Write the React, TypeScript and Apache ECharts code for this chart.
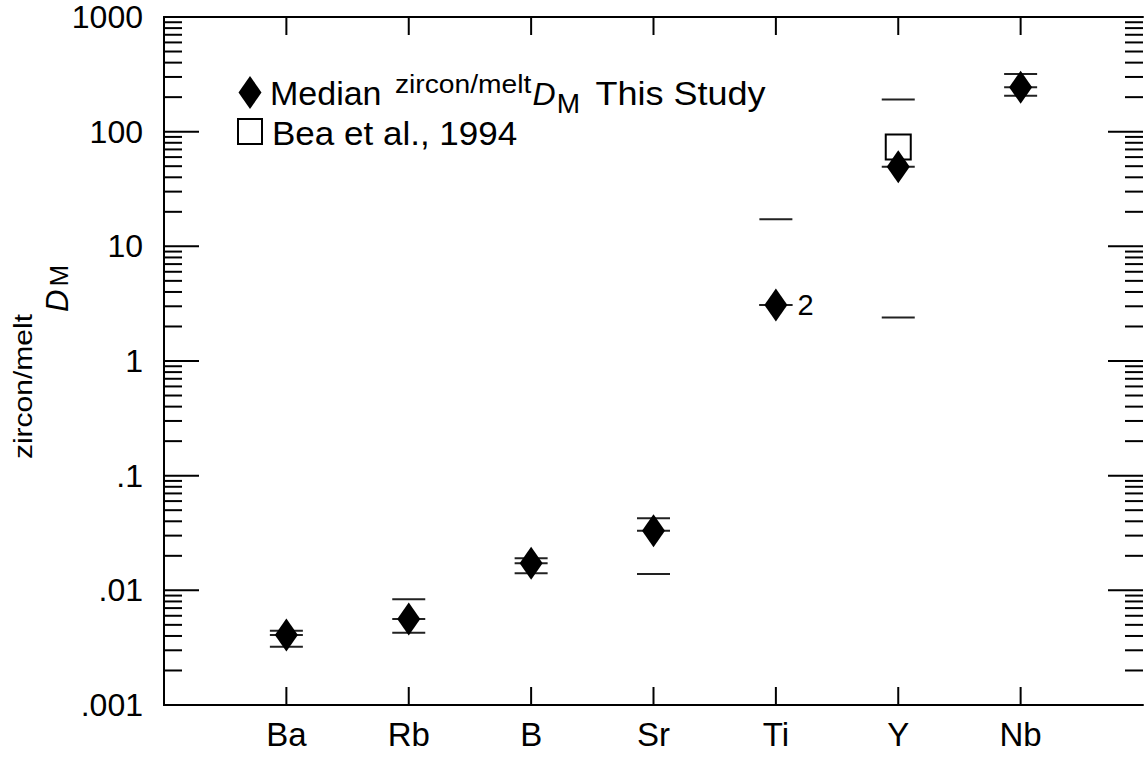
import React, { useEffect, useRef } from "react";
import * as echarts from "echarts";

const categories = ["Ba", "Rb", "B", "Sr", "Ti", "Y", "Nb"];
const medianD = [0.00408, 0.00562, 0.0172, 0.0331, 3.08, 49.5, 244];
const upperD = [0.00445, 0.00835, 0.019, 0.0425, 17.2, 191, 318];
const lowerD = [0.00322, 0.00427, 0.01408, 0.01388, 3.08, 2.39, 206];
const beaCategories = ["Y"];
const beaD = [73.5];
const countCategory = "Ti";
const countText = "2";
const yMajorTicks = [0.001, 0.01, 0.1, 1, 10, 100, 1000];
const yTickLabels = [".001", ".01", ".1", "1", "10", "100", "1000"];
const decades = [0.001, 0.01, 0.1, 1, 10, 100];
const minorMultipliers = [2, 3, 4, 5, 6, 7, 8, 9];

const FONT = '"Liberation Sans", Arial, Helvetica, sans-serif';
const X_MIN = 0;
const X_MAX = categories.length + 1;
const Y_MIN = 0.001;
const Y_MAX = 1000;

let measureCtx: CanvasRenderingContext2D | null = null;
function tw(text: string, size: number, italic = false): number {
  if (!measureCtx) measureCtx = document.createElement("canvas").getContext("2d");
  if (!measureCtx) return text.length * size * 0.5;
  measureCtx.font = `${italic ? "italic " : ""}${size}px ${FONT}`;
  return measureCtx.measureText(text).width;
}

function txt(text: string, x: number, baseline: number, size: number, italic = false, sx = 1) {
  return {
    type: "text",
    x,
    y: baseline - size * 0.35,
    scaleX: sx,
    style: {
      text,
      fontSize: size,
      fontFamily: FONT,
      fontStyle: italic ? "italic" : "normal",
      fill: "#000",
      align: "left",
      verticalAlign: "middle",
    },
    silent: true,
  };
}

export default function App() {
  const ref = useRef<HTMLDivElement>(null);
  useEffect(() => {
    if (!ref.current) return;
    const chart = echarts.init(ref.current, undefined, { renderer: "svg" });

    const yTicks: number[][] = [];
    yMajorTicks.forEach((v) => yTicks.push([X_MIN, v, 35]));
    decades.forEach((d) => minorMultipliers.forEach((m) => yTicks.push([X_MIN, d * m, 18])));
    const xTicks = categories.map((c, i) => [i + 1, Y_MIN, 18]);

    const errData = categories.map((c, i) => [i + 1, lowerD[i], medianD[i], upperD[i]]);
    const medData = categories.map((c, i) => {
      const item: any = { value: [i + 1, medianD[i]] };
      if (c === countCategory) {
        item.label = {
          show: true,
          formatter: countText,
          position: "right",
          distance: 10,
          fontSize: 29,
          fontFamily: FONT,
          color: "#000",
        };
      }
      return item;
    });
    const beaData = beaCategories.map((c, i) => [categories.indexOf(c) + 1, beaD[i]]);

    // legend pieces
    const LF = 34;
    const l1 = 105;
    const l2 = 145;
    let cx = 270;
    const legend: any[] = [];
    legend.push(txt("Median", cx, l1, LF));
    cx += tw("Median ", LF) + 4;
    const supSx = 1.13;
    legend.push(txt("zircon/melt", cx, l1 - 12, 25, false, supSx));
    cx += tw("zircon/melt", 25) * supSx + 1;
    legend.push(txt("D", cx, l1, 32, true));
    cx += tw("D", 32, true) + 1;
    legend.push(txt("M", cx, l1 + 8, 28));
    cx += tw("M", 28) + tw(" ", LF) + 6;
    legend.push(txt("This Study", cx, l1, LF, false, 1.06));
    legend.push(txt("Bea et al., 1994", 272, l2, LF, false, 1.03));
    legend.push({
      type: "polygon",
      shape: { points: [[250, 76], [261.5, 92.5], [250, 109], [238.5, 92.5]] },
      style: { fill: "#000" },
      silent: true,
    });
    legend.push({
      type: "rect",
      shape: { x: 238, y: 119, width: 24, height: 25 },
      style: { fill: "none", stroke: "#000", lineWidth: 2 },
      silent: true,
    });

    // y axis title (rotated group, reads bottom to top)
    const tChildren: any[] = [];
    let tx = 0;
    const tSx = 1.2;
    tChildren.push(txt("zircon/melt", tx, 32, 25, false, tSx));
    tx += tw("zircon/melt", 25) * tSx + 2;
    tChildren.push(txt("D", tx, 68, 31, true));
    tx += tw("D", 31, true) + 3;
    tChildren.push(txt("M", tx, 68, 26));
    tx += tw("M", 26);
    const titleLen = tx;

    const axisCommon = {
      axisLine: { show: true, lineStyle: { color: "#000", width: 2 } },
      axisTick: { show: false },
      splitLine: { show: false },
    };

    const option: any = {
      animation: false,
      grid: { left: 164, top: 17, width: 984, height: 688 },
      xAxis: [
        {
          type: "value",
          min: X_MIN,
          max: X_MAX,
          interval: 1,
          position: "bottom",
          ...axisCommon,
          axisLabel: {
            formatter: (v: number) => categories[Math.round(v) - 1] ?? "",
            fontSize: 33,
            fontFamily: FONT,
            color: "#000",
            margin: 13,
          },
        },
        {
          type: "value",
          min: X_MIN,
          max: X_MAX,
          interval: 1,
          position: "top",
          ...axisCommon,
          axisLabel: { show: false },
        },
      ],
      yAxis: [
        {
          type: "log",
          logBase: 10,
          min: Y_MIN,
          max: Y_MAX,
          position: "left",
          ...axisCommon,
          axisLabel: {
            formatter: (v: number) => yTickLabels[Math.round(Math.log10(v)) + 3] ?? "",
            fontSize: 32,
            fontFamily: FONT,
            color: "#000",
            margin: 21,
          },
        },
        {
          type: "log",
          logBase: 10,
          min: Y_MIN,
          max: Y_MAX,
          position: "right",
          ...axisCommon,
          axisLabel: { show: false },
        },
      ],
      series: [
        {
          type: "custom",
          name: "y ticks",
          silent: true,
          clip: false,
          data: yTicks,
          encode: { x: 0, y: 1 },
          renderItem: (params: any, api: any) => {
            const v = api.value(1);
            const len = api.value(2);
            const pL = api.coord([X_MIN, v]);
            const pR = api.coord([X_MAX, v]);
            const st = { stroke: "#000", lineWidth: 2 };
            return {
              type: "group",
              children: [
                { type: "line", shape: { x1: pL[0], y1: pL[1], x2: pL[0] + len, y2: pL[1] }, style: st },
                { type: "line", shape: { x1: pR[0] - len, y1: pR[1], x2: pR[0], y2: pR[1] }, style: st },
              ],
            };
          },
        },
        {
          type: "custom",
          name: "x ticks",
          silent: true,
          clip: false,
          data: xTicks,
          encode: { x: 0, y: 1 },
          renderItem: (params: any, api: any) => {
            const x = api.value(0);
            const len = api.value(2);
            const pB = api.coord([x, Y_MIN]);
            const pT = api.coord([x, Y_MAX]);
            const st = { stroke: "#000", lineWidth: 2 };
            return {
              type: "group",
              children: [
                { type: "line", shape: { x1: pB[0], y1: pB[1], x2: pB[0], y2: pB[1] - len }, style: st },
                { type: "line", shape: { x1: pT[0], y1: pT[1], x2: pT[0], y2: pT[1] + len }, style: st },
              ],
            };
          },
        },
        {
          type: "custom",
          name: "range",
          silent: true,
          data: errData,
          encode: { x: 0, y: [1, 2, 3] },
          z: 2,
          renderItem: (params: any, api: any) => {
            const x = api.value(0);
            const children: any[] = [];
            [1, 2, 3].forEach((k) => {
              const p = api.coord([x, api.value(k)]);
              children.push({
                type: "line",
                shape: { x1: p[0] - 16.5, y1: p[1], x2: p[0] + 16.5, y2: p[1] },
                style: { stroke: "#222", lineWidth: 2 },
              });
            });
            return { type: "group", children };
          },
        },
        {
          type: "scatter",
          name: "Bea et al., 1994",
          data: beaData,
          symbol: "rect",
          symbolSize: 25,
          itemStyle: { color: "rgba(255,255,255,0)", borderColor: "#000", borderWidth: 2, opacity: 1 },
          z: 3,
        },
        {
          type: "scatter",
          name: "Median zircon/melt DM This Study",
          data: medData,
          symbol: "diamond",
          symbolSize: [23, 33],
          itemStyle: { color: "#000", opacity: 1 },
          z: 4,
        },
      ],
      graphic: [
        ...legend,
        {
          type: "group",
          x: 0,
          y: 362 + titleLen / 2,
          rotation: Math.PI / 2,
          children: tChildren,
          silent: true,
        },
      ],
    };
    chart.setOption(option);
    return () => chart.dispose();
  }, []);
  return (
    <div
      ref={ref}
      style={{ position: "absolute", left: 0, top: 0, width: 1146, height: 759, background: "#fff" }}
    />
  );
}
